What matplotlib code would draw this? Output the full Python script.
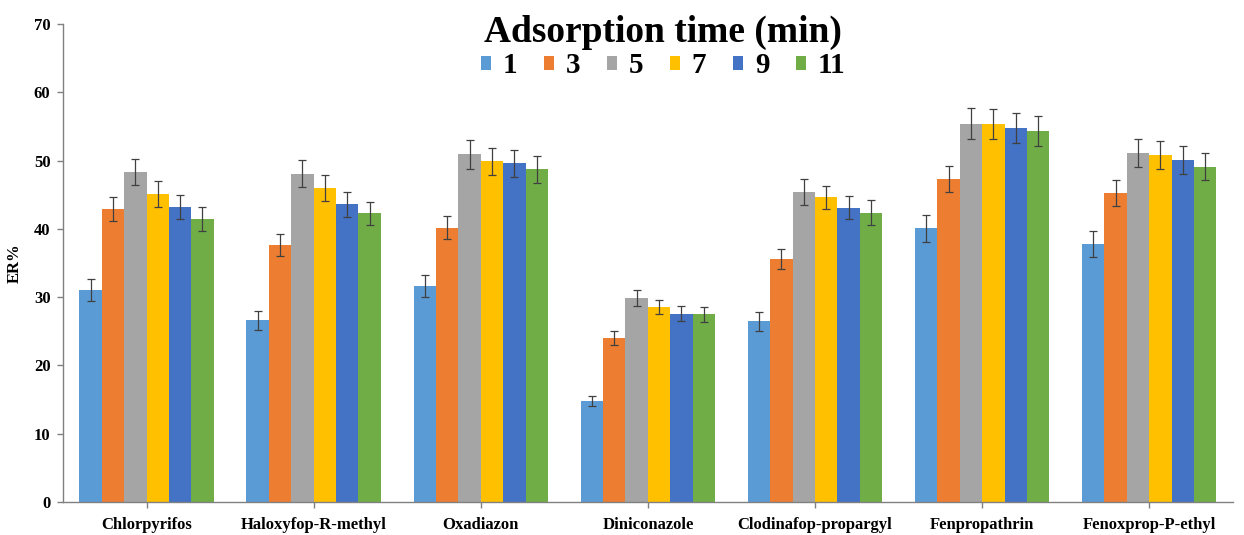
import matplotlib
matplotlib.use("Agg")
import matplotlib.pyplot as plt
import numpy as np

plt.rcParams['font.family'] = ['Liberation Serif', 'DejaVu Serif']
plt.rcParams['font.weight'] = 'bold'

compounds = ["Chlorpyrifos", "Haloxyfop-R-methyl", "Oxadiazon", "Diniconazole",
             "Clodinafop-propargyl", "Fenpropathrin", "Fenoxprop-P-ethyl"]
times = ["1", "3", "5", "7", "9", "11"]

er_1 = [31.1, 26.6, 31.6, 14.8, 26.5, 40.1, 37.8]
er_3 = [42.9, 37.6, 40.2, 24.0, 35.6, 47.3, 45.2]
er_5 = [48.3, 48.1, 50.9, 29.9, 45.4, 55.4, 51.1]
er_7 = [45.1, 46.0, 49.9, 28.6, 44.6, 55.4, 50.8]
er_9 = [43.2, 43.6, 49.6, 27.6, 43.1, 54.8, 50.1]
er_11 = [41.5, 42.3, 48.7, 27.5, 42.4, 54.3, 49.1]

sd_1 = [1.6, 1.4, 1.6, 0.75, 1.4, 2.0, 1.9]
sd_3 = [1.7, 1.6, 1.65, 1.0, 1.5, 1.9, 1.9]
sd_5 = [1.9, 1.95, 2.1, 1.15, 1.85, 2.3, 2.1]
sd_7 = [1.85, 1.9, 2.0, 1.05, 1.75, 2.2, 2.1]
sd_9 = [1.8, 1.85, 2.0, 1.15, 1.7, 2.2, 2.05]
sd_11 = [1.75, 1.7, 2.0, 1.1, 1.8, 2.2, 2.0]

series = [er_1, er_3, er_5, er_7, er_9, er_11]
errors = [sd_1, sd_3, sd_5, sd_7, sd_9, sd_11]
colors = ["#5B9BD5", "#ED7D31", "#A5A5A5", "#FFC000", "#4472C4", "#70AD47"]

fig = plt.figure(figsize=(12.44, 5.35), dpi=100)
ax = fig.add_axes([0.0506, 0.0617, 0.9404, 0.8933])

x = np.arange(len(compounds))
w = 0.134
for j, (vals, errs, c) in enumerate(zip(series, errors, colors)):
    ax.bar(x + (j - 2.5) * w, vals, width=w, color=c, label=times[j],
           yerr=errs, error_kw=dict(ecolor="#404040", elinewidth=0.9,
                                    capsize=3, capthick=0.9))

ax.set_xlim(-0.5, len(compounds) - 0.5)
ax.set_ylim(0, 70)
ax.set_yticks(np.arange(0, 71, 10))
ax.set_xticks(x)
ax.set_xticklabels(compounds, fontsize=12, fontweight='bold')
ax.tick_params(axis='y', labelsize=12, length=4, color="#808080", width=1, pad=5)
ax.tick_params(axis='x', length=4, color="#808080", width=1, pad=7)
for lbl in ax.get_yticklabels():
    lbl.set_fontweight('bold')
for side in ("top", "right"):
    ax.spines[side].set_visible(False)
for side in ("left", "bottom"):
    ax.spines[side].set_color("#808080")
    ax.spines[side].set_linewidth(1)

ax.set_ylabel("ER%", fontsize=12, fontweight='bold', labelpad=8)

leg = fig.legend(loc='upper center', bbox_to_anchor=(0.533, 1.0), ncol=6,
                 frameon=False, title="Adsorption time (min)",
                 prop=dict(size=21, weight='bold'),
                 title_fontproperties=dict(size=27, weight='bold'),
                 handlelength=0.36, handleheight=0.36, handletextpad=0.4,
                 columnspacing=0.9, borderpad=0.0, labelspacing=0.2)
leg._legend_box.sep = 2

fig.savefig("out.png", dpi=100)
